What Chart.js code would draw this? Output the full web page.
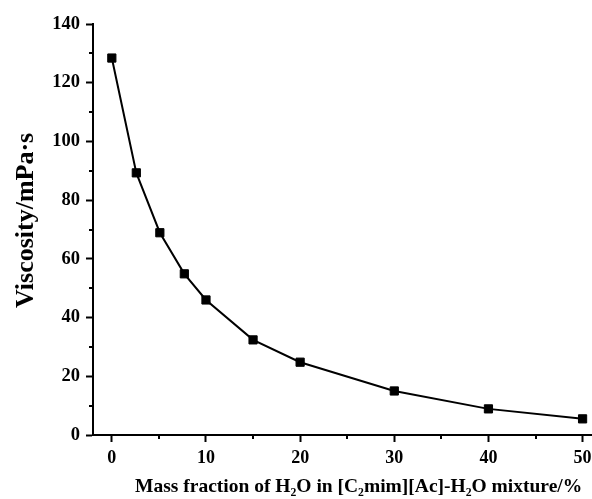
<!DOCTYPE html>
<html>
<head>
<meta charset="utf-8">
<script src="https://cdn.jsdelivr.net/npm/chart.js@4/dist/chart.umd.min.js"></script>
<style>
  html, body { margin: 0; padding: 0; background: #fff; }
  #wrap { position: relative; width: 592px; height: 499px; }
</style>
</head>
<body>
<div id="wrap"><canvas id="myChart"></canvas></div>
<script>
  // mass fraction of water (%) and viscosity (mPa·s)
  const waterFraction = [0, 2.6, 5.1, 7.7, 10, 15, 20, 30, 40, 50];
  const viscosity = [128.4, 89.3, 68.9, 54.9, 46, 32.4, 24.8, 15, 8.9, 5.5];

  const xTicks = [0, 10, 20, 30, 40, 50];
  const xMinorTicks = [5, 15, 25, 35, 45];
  const yTicks = [0, 20, 40, 60, 80, 100, 120, 140];
  const yMinorTicks = [10, 30, 50, 70, 90, 110, 130];

  const font = "'Liberation Serif', 'Times New Roman', serif";

  // short outward ticks between the labelled ones
  const minorTicks = {
    id: 'minorTicks',
    afterDraw(chart) {
      const ctx = chart.ctx;
      const xs = chart.scales.x;
      const ys = chart.scales.y;
      ctx.save();
      ctx.strokeStyle = '#000';
      ctx.lineWidth = 2;
      ctx.beginPath();
      xMinorTicks.forEach(v => {
        const px = Math.round(xs.getPixelForValue(v));
        ctx.moveTo(px, xs.top);
        ctx.lineTo(px, xs.top + 4);
      });
      yMinorTicks.forEach(v => {
        const py = Math.round(ys.getPixelForValue(v));
        ctx.moveTo(ys.right, py);
        ctx.lineTo(ys.right - 4, py);
      });
      ctx.stroke();
      ctx.restore();
    }
  };

  const data = {
    datasets: [{
      label: 'viscosity',
      data: waterFraction.map((x, i) => ({ x: x, y: viscosity[i] })),
      borderColor: '#000',
      backgroundColor: '#000',
      borderWidth: 2,
      pointStyle: 'rect',
      pointRadius: 5.8,
      pointBorderWidth: 1,
      pointHoverRadius: 5.8,
      tension: 0
    }]
  };

  const config = {
    type: 'line',
    data: data,
    plugins: [minorTicks],
    options: {
      responsive: true,
      maintainAspectRatio: false,
      animation: false,
      layout: { autoPadding: false, padding: { top: 24, right: 0, left: 0, bottom: 0 } },
      plugins: {
        legend: { display: false },
        tooltip: { enabled: false }
      },
      scales: {
        x: {
          type: 'linear',
          min: -2,
          max: 51,
          afterBuildTicks: scale => { scale.ticks = xTicks.map(v => ({ value: v })); },
          afterFit: scale => { scale.height = 64; scale.paddingRight = 0; },
          border: { color: '#000', width: 2 },
          grid: {
            drawOnChartArea: false,
            tickLength: 7,
            tickWidth: 2,
            tickColor: '#000'
          },
          ticks: {
            color: '#000',
            padding: 6,
            maxRotation: 0,
            font: { family: font, size: 18, weight: 'bold' }
          },
          title: {
            display: true,
            align: 'end',
            text: 'Mass fraction of H\u2082O in [C\u2082mim][Ac]-H\u2082O mixture/%\u2002',
            color: '#000',
            padding: { top: 2, bottom: 0 },
            font: { family: font, size: 19.5, weight: 'bold' }
          }
        },
        y: {
          min: 0,
          max: 140,
          afterBuildTicks: scale => { scale.ticks = yTicks.map(v => ({ value: v })); },
          afterFit: scale => { scale.width = 93; },
          border: { color: '#000', width: 2 },
          grid: {
            drawOnChartArea: false,
            tickLength: 7,
            tickWidth: 2,
            tickColor: '#000'
          },
          ticks: {
            color: '#000',
            padding: 6,
            font: { family: font, size: 18.5, weight: 'bold' }
          },
          title: {
            display: true,
            text: '\u2002\u2009Viscosity/mPa\u00b7s',
            color: '#000',
            padding: { top: 11, bottom: 0 },
            font: { family: font, size: 26, weight: 'bold' }
          }
        }
      }
    }
  };

  const myChart = new Chart(document.getElementById('myChart'), config);
</script>
</body>
</html>
